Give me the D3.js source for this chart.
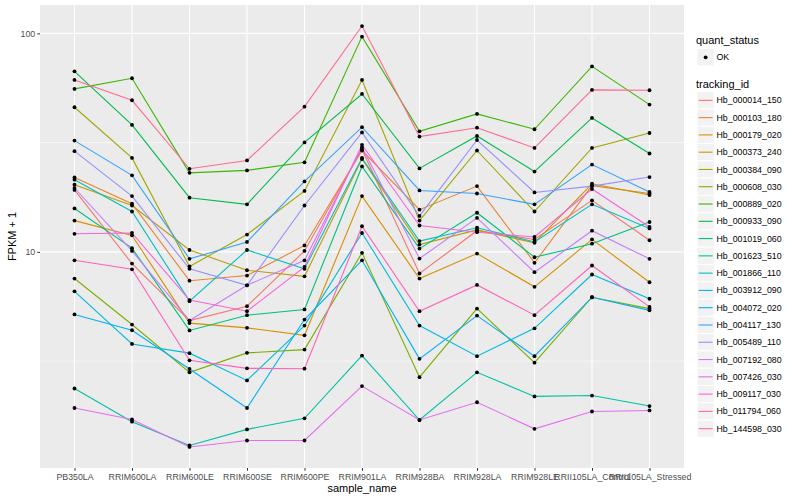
<!DOCTYPE html>
<html>
<head>
<meta charset="utf-8">
<script src="https://cdn.jsdelivr.net/npm/d3@7"></script>
<style>
  body { margin: 0; background: #fff; }
  text { font-family: "Liberation Sans", Arial, sans-serif; }
</style>
</head>
<body>
<div id="chart"></div>
<script>
// categories on the x axis
const samples = ['PB350LA', 'RRIM600LA', 'RRIM600LE', 'RRIM600SE', 'RRIM600PE', 'RRIM901LA',
  'RRIM928BA', 'RRIM928LA', 'RRIM928LE', 'RRII105LA_Control', 'RRII105LA_Stressed'];

const trackingIds = ['Hb_000014_150', 'Hb_000103_180', 'Hb_000179_020', 'Hb_000373_240', 'Hb_000384_090',
  'Hb_000608_030', 'Hb_000889_020', 'Hb_000933_090', 'Hb_001019_060', 'Hb_001623_510',
  'Hb_001866_110', 'Hb_003912_090', 'Hb_004072_020', 'Hb_004117_130', 'Hb_005489_110',
  'Hb_007192_080', 'Hb_007426_030', 'Hb_009117_030', 'Hb_011794_060', 'Hb_144598_030'];

// FPKM + 1 per gene, one value per sample
const hb000014 = [19.2, 8.84, 4.85, 5.64, 10.1, 29.4, 7.96, 12.5, 11.4, 17.2, 11.3];
const hb000103 = [21.9, 16.6, 7.38, 7.79, 10.7, 29.1, 15.6, 20.0, 8.91, 20.1, 18.5];
const hb000179 = [13.9, 11.9, 4.72, 4.49, 4.15, 18.0, 7.55, 9.82, 6.92, 11.4, 7.26];
const hb000373 = [20.3, 16.3, 10.2, 8.24, 7.73, 26.6, 10.8, 12.6, 11.0, 20.5, 18.2];
const hb000384 = [45.9, 26.9, 8.57, 12.0, 19.0, 61.2, 13.9, 29.1, 15.3, 29.9, 35.0];
const hb000608 = [7.55, 4.65, 2.81, 3.45, 3.57, 9.90, 2.67, 5.50, 3.11, 6.20, 5.50];
const hb000889 = [55.7, 62.3, 23.0, 23.6, 25.7, 96.6, 35.6, 42.8, 36.4, 70.6, 47.2];
const hb000933 = [67.0, 38.1, 17.7, 16.5, 31.7, 52.8, 24.1, 33.9, 23.3, 41.0, 28.2];
const hb001019 = [15.8, 10.4, 4.37, 5.13, 5.45, 24.6, 10.35, 15.1, 9.45, 10.9, 13.7];
const hb001623 = [2.37, 1.67, 1.30, 1.54, 1.73, 3.35, 1.70, 2.81, 2.18, 2.20, 1.97];
const hb001866 = [21.4, 15.3, 5.95, 10.2, 8.36, 26.9, 11.2, 12.9, 11.1, 16.5, 12.8];
const hb003912 = [6.60, 3.79, 3.44, 2.58, 4.60, 12.2, 4.60, 3.33, 4.47, 7.88, 6.10];
const hb004072 = [5.17, 4.38, 2.91, 1.93, 4.90, 9.15, 3.24, 5.11, 3.33, 6.20, 5.40];
const hb004117 = [32.3, 22.4, 9.29, 11.1, 21.0, 37.2, 19.1, 18.5, 16.5, 25.1, 18.8];
const hb005489 = [28.9, 18.0, 8.36, 7.03, 16.3, 35.2, 14.6, 32.5, 18.7, 20.0, 22.0];
const hb007192 = [19.6, 10.1, 4.85, 7.03, 9.15, 30.1, 9.32, 14.3, 8.07, 12.5, 9.29];
const hb007426 = [1.93, 1.71, 1.28, 1.37, 1.37, 2.43, 1.70, 2.05, 1.55, 1.86, 1.88];
const hb009117 = [12.1, 12.2, 6.02, 5.35, 8.54, 30.9, 13.2, 12.3, 11.7, 19.4, 13.0];
const hb011794 = [9.15, 8.32, 3.19, 2.93, 2.92, 13.1, 5.35, 7.06, 5.13, 8.66, 5.60];
const hb144598 = [61.2, 49.4, 24.0, 26.2, 46.2, 108, 33.7, 37.0, 29.9, 55.1, 54.9];

const seriesValues = [hb000014, hb000103, hb000179, hb000373, hb000384, hb000608, hb000889,
  hb000933, hb001019, hb001623, hb001866, hb003912, hb004072, hb004117, hb005489,
  hb007192, hb007426, hb009117, hb011794, hb144598];

const yTicks = [10, 100];
const yTickLabels = ['10', '100'];

const colors = ['#F8766D', '#EA8331', '#D89000', '#C09B00', '#A3A500', '#7CAE00', '#39B600',
  '#00BB4E', '#00BF7D', '#00C1A3', '#00BFC4', '#00BAE0', '#00B0F6', '#35A2FF', '#9590FF',
  '#C77CFF', '#E76BF3', '#FA62DB', '#FF62BC', '#FF6C91'];

const series = trackingIds.map((id, i) => ({
  id: id,
  values: seriesValues[i].map((v, j) => ({ sample: samples[j], value: v }))
}));

const margin = { top: 5, right: 116, bottom: 32, left: 40 };
const width = 800 - margin.left - margin.right;
const height = 500 - margin.top - margin.bottom;

const svg = d3.select('#chart')
  .append('svg')
  .attr('width', 800)
  .attr('height', 500);

const g = svg.append('g')
  .attr('transform', `translate(${margin.left},${margin.top})`);

g.append('rect')
  .attr('width', width)
  .attr('height', height)
  .attr('fill', '#EBEBEB');

const xScale = d3.scalePoint()
  .domain(samples)
  .range([0, width])
  .padding(0.6);

// log scale with ggplot's 5% expansion in log space
const allValues = seriesValues.flat();
const lo = Math.log10(d3.min(allValues));
const hi = Math.log10(d3.max(allValues));
const pad = (hi - lo) * 0.05;
const yScale = d3.scaleLog()
  .domain([Math.pow(10, lo - pad), Math.pow(10, hi + pad)])
  .range([height, 0]);

// minor gridlines halfway between decades
const minor = [0.5, 1.5, 2.5].map(e => Math.pow(10, e))
  .filter(v => v > yScale.domain()[0] && v < yScale.domain()[1]);

g.selectAll('.minor')
  .data(minor)
  .enter()
  .append('line')
  .attr('x1', 0).attr('x2', width)
  .attr('y1', d => yScale(d)).attr('y2', d => yScale(d))
  .attr('stroke', '#fff')
  .attr('stroke-width', 0.55);

g.selectAll('.major')
  .data(yTicks)
  .enter()
  .append('line')
  .attr('x1', 0).attr('x2', width)
  .attr('y1', d => yScale(d)).attr('y2', d => yScale(d))
  .attr('stroke', '#fff')
  .attr('stroke-width', 1.1);

g.selectAll('.vgrid')
  .data(samples)
  .enter()
  .append('line')
  .attr('x1', d => xScale(d)).attr('x2', d => xScale(d))
  .attr('y1', 0).attr('y2', height)
  .attr('stroke', '#fff')
  .attr('stroke-width', 1.1);

const line = d3.line()
  .x(d => xScale(d.sample))
  .y(d => yScale(d.value));

g.selectAll('.series')
  .data(series)
  .enter()
  .append('path')
  .attr('d', d => line(d.values))
  .attr('fill', 'none')
  .attr('stroke', (d, i) => colors[i])
  .attr('stroke-width', 1.1);

g.selectAll('.pt')
  .data(series.flatMap(s => s.values))
  .enter()
  .append('circle')
  .attr('cx', d => xScale(d.sample))
  .attr('cy', d => yScale(d.value))
  .attr('r', 1.9)
  .attr('fill', '#000');

// axes
const xAxis = d3.axisBottom(xScale).tickSize(2.75).tickPadding(3);
const yAxis = d3.axisLeft(yScale).tickValues(yTicks)
  .tickFormat((d, i) => yTickLabels[i]).tickSize(2.75).tickPadding(2);

const gx = g.append('g')
  .attr('transform', `translate(0, ${height})`)
  .call(xAxis);
const gy = g.append('g').call(yAxis);

[gx, gy].forEach(a => {
  a.select('.domain').remove();
  a.selectAll('.tick line').attr('stroke', '#333333').attr('stroke-width', 1);
  a.selectAll('.tick text')
    .attr('fill', '#4D4D4D')
    .style('font-size', '8.8px')
    .style('font-family', '"Liberation Sans", Arial, sans-serif');
});

svg.append('text')
  .attr('x', margin.left + width / 2)
  .attr('y', 492)
  .attr('text-anchor', 'middle')
  .style('font-size', '11px')
  .text('sample_name');

svg.append('text')
  .attr('transform', `translate(16, ${margin.top + height / 2}) rotate(-90)`)
  .attr('text-anchor', 'middle')
  .style('font-size', '11px')
  .text('FPKM + 1');

// legends
const legendX = 696;
const leg = svg.append('g');

leg.append('text')
  .attr('x', legendX)
  .attr('y', 43.5)
  .style('font-size', '11px')
  .text('quant_status');

leg.append('rect')
  .attr('x', legendX + 1).attr('y', 48.7)
  .attr('width', 17.28).attr('height', 17.28)
  .attr('fill', '#F2F2F2').attr('stroke', '#fff');
leg.append('circle')
  .attr('cx', legendX + 1 + 8.64).attr('cy', 48.7 + 8.64)
  .attr('r', 1.9).attr('fill', '#000');
leg.append('text')
  .attr('x', legendX + 20.5).attr('y', 57.3)
  .attr('dy', '0.35em')
  .style('font-size', '8.8px')
  .text('OK');

leg.append('text')
  .attr('x', legendX)
  .attr('y', 88)
  .style('font-size', '11px')
  .text('tracking_id');

const keys = leg.selectAll('.key')
  .data(trackingIds)
  .enter()
  .append('g')
  .attr('transform', (d, i) => `translate(${legendX + 1}, ${91.7 + i * 17.28})`);

keys.append('rect')
  .attr('width', 17.28).attr('height', 17.28)
  .attr('fill', '#F2F2F2').attr('stroke', '#fff');

keys.append('line')
  .attr('x1', 1.7).attr('x2', 15.6)
  .attr('y1', 8.64).attr('y2', 8.64)
  .attr('stroke', (d, i) => colors[i])
  .attr('stroke-width', 1.1);

keys.append('text')
  .attr('x', 19.5).attr('y', 8.64)
  .attr('dy', '0.35em')
  .style('font-size', '8.8px')
  .text(d => d);
</script>
</body>
</html>
